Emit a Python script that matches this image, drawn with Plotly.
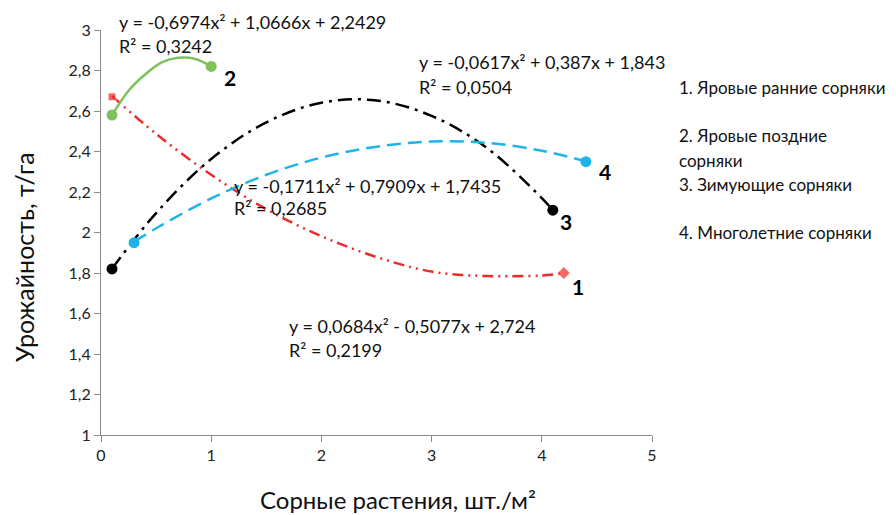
import plotly.graph_objects as go

# ---- data ----
# curve points (trend curves)
red_x = [0.1, 0.5, 1.0, 1.5, 2.0, 2.5, 3.0, 3.5, 4.0, 4.2]
red_y = [2.674, 2.487, 2.285, 2.115, 1.982, 1.879, 1.807, 1.785, 1.788, 1.798]
green_x = [0.1, 0.25, 0.4, 0.55, 0.7, 0.85, 1.0]
green_y = [2.58, 2.70, 2.78, 2.84, 2.863, 2.858, 2.82]
black_x = [0.1, 0.5, 1.0, 1.5, 2.0, 2.5, 3.0, 3.5, 4.0, 4.1]
black_y = [1.821, 2.096, 2.363, 2.544, 2.641, 2.652, 2.576, 2.418, 2.170, 2.110]
blue_x = [0.3, 0.5, 1.0, 1.5, 2.0, 2.5, 3.0, 3.5, 4.0, 4.4]
blue_y = [1.954, 2.021, 2.168, 2.285, 2.370, 2.424, 2.449, 2.443, 2.404, 2.351]

# end-point markers
red_pts_x = [0.1, 4.2]
red_pts_y = [2.67, 1.80]
green_pts_x = [0.1, 1.0]
green_pts_y = [2.58, 2.82]
black_pts_x = [0.1, 4.1]
black_pts_y = [1.82, 2.11]
blue_pts_x = [0.3, 4.4]
blue_pts_y = [1.95, 2.35]

y_ticks = [1, 1.2, 1.4, 1.6, 1.8, 2, 2.2, 2.4, 2.6, 2.8, 3]
y_ticktext = ["1", "1,2", "1,4", "1,6", "1,8", "2", "2,2", "2,4", "2,6", "2,8", "3"]
x_ticks = [0, 1, 2, 3, 4, 5]
x_ticktext = ["0", "1", "2", "3", "4", "5"]

equations = [
    ("y = -0,6974x² + 1,0666x + 2,2429", "R² = 0,3242"),
    ("y = -0,0617x² + 0,387x + 1,843", "R² = 0,0504"),
    ("y = -0,1711x² + 0,7909x + 1,7435", "R² = 0,2685"),
    ("y = 0,0684x² - 0,5077x + 2,724", "R² = 0,2199"),
]
legend_lines = ["1. Яровые ранние сорняки", "2. Яровые поздние", "сорняки",
                "3. Зимующие сорняки", "4. Многолетние сорняки"]
series_labels = ["1", "2", "3", "4"]
x_title = "Сорные растения, шт./м²"
y_title = "Урожайность, т/га"

FONT = "Lato"
RED, GREEN, BLACK, BLUE = "#EE2B2B", "#7DC25A", "#000000", "#1FB4E8"

fig = go.Figure()
fig.add_trace(go.Scatter(x=red_x, y=red_y, mode="lines", line_shape="spline",
                         line=dict(color=RED, width=2.5, dash="11px,5px,2px,5px,2px,5px")))
fig.add_trace(go.Scatter(x=green_x, y=green_y, mode="lines", line_shape="spline",
                         line=dict(color=GREEN, width=2.5)))
fig.add_trace(go.Scatter(x=black_x, y=black_y, mode="lines", line_shape="spline",
                         line=dict(color=BLACK, width=2.5, dash="14px,6px,3px,6px")))
fig.add_trace(go.Scatter(x=blue_x, y=blue_y, mode="lines", line_shape="spline",
                         line=dict(color=BLUE, width=2.5, dash="14px,7px")))

fig.add_trace(go.Scatter(x=red_pts_x, y=red_pts_y, mode="markers",
                         marker=dict(color=RED, size=[8, 10], symbol=["square", "diamond"])))
fig.add_trace(go.Scatter(x=green_pts_x, y=green_pts_y, mode="markers",
                         marker=dict(color=GREEN, size=11, symbol="circle")))
fig.add_trace(go.Scatter(x=black_pts_x, y=black_pts_y, mode="markers",
                         marker=dict(color=BLACK, size=11, symbol="circle")))
fig.add_trace(go.Scatter(x=blue_pts_x, y=blue_pts_y, mode="markers",
                         marker=dict(color=BLUE, size=11, symbol="circle")))


def px_(xv):
    return xv / 5.0


def py_(yv):
    return (yv - 1.0) / 2.0


annotations = []
EQ_SIZE = 18
eq_pos = [(0.145, 3.04, 2.921), (2.868, 2.842, 2.719), (1.189, 2.230, 2.121), (1.688, 1.538, 1.420)]
for (l1, l2), (ex, ey1, ey2) in zip(equations, eq_pos):
    for t, ey in ((l1, ey1), (l2, ey2)):
        annotations.append(dict(x=px_(ex), y=py_(ey), text=t, xref="paper", yref="paper",
                                xanchor="left", yanchor="middle", showarrow=False,
                                font=dict(family=FONT, size=EQ_SIZE, color="#111")))

lab_pos = [(4.33, 1.731), (1.17, 2.763), (4.22, 2.052), (4.573, 2.299)]
for t, (lx, ly) in zip(series_labels, lab_pos):
    annotations.append(dict(x=px_(lx), y=py_(ly), text="<b>" + t + "</b>", xref="paper", yref="paper",
                            xanchor="center", yanchor="middle",
                            showarrow=False, font=dict(family=FONT, size=21, color="#000")))

leg_y = [2.714, 2.477, 2.358, 2.235, 1.998]
for t, ly in zip(legend_lines, leg_y):
    annotations.append(dict(x=px_(5.227), y=py_(ly), text=t, xref="paper", yref="paper",
                            xanchor="left", yanchor="middle", showarrow=False,
                            font=dict(family=FONT, size=17, color="#111")))

annotations.append(dict(x=0.539, y=-0.160, text=x_title, xref="paper", yref="paper",
                        xanchor="center", yanchor="middle", showarrow=False,
                        font=dict(family=FONT, size=24, color="#111")))
annotations.append(dict(x=-0.1397, y=0.4395, text=y_title, xref="paper", yref="paper",
                        xanchor="center", yanchor="middle", showarrow=False, textangle=-90,
                        font=dict(family=FONT, size=25, color="#111")))

fig.update_layout(
    width=896, height=515,
    margin=dict(l=101, r=244, t=30, b=80),
    paper_bgcolor="white", plot_bgcolor="white",
    showlegend=False,
    annotations=annotations,
    font=dict(family=FONT, color="#111"),
    xaxis=dict(range=[0, 5], tickvals=x_ticks, ticktext=x_ticktext, showgrid=False, zeroline=False,
               showline=True, linecolor="#8c8c8c", linewidth=1, ticks="outside", ticklen=6,
               tickcolor="#8c8c8c", tickfont=dict(size=16, family=FONT, color="#222")),
    yaxis=dict(range=[1, 3], tickvals=y_ticks, ticktext=y_ticktext, showgrid=False, zeroline=False,
               showline=True, linecolor="#8c8c8c", linewidth=1, ticks="outside", ticklen=6,
               tickcolor="#8c8c8c", tickfont=dict(size=16, family=FONT, color="#222")),
)
for tr in fig.data:
    tr.cliponaxis = False
fig.write_html("out.html")
